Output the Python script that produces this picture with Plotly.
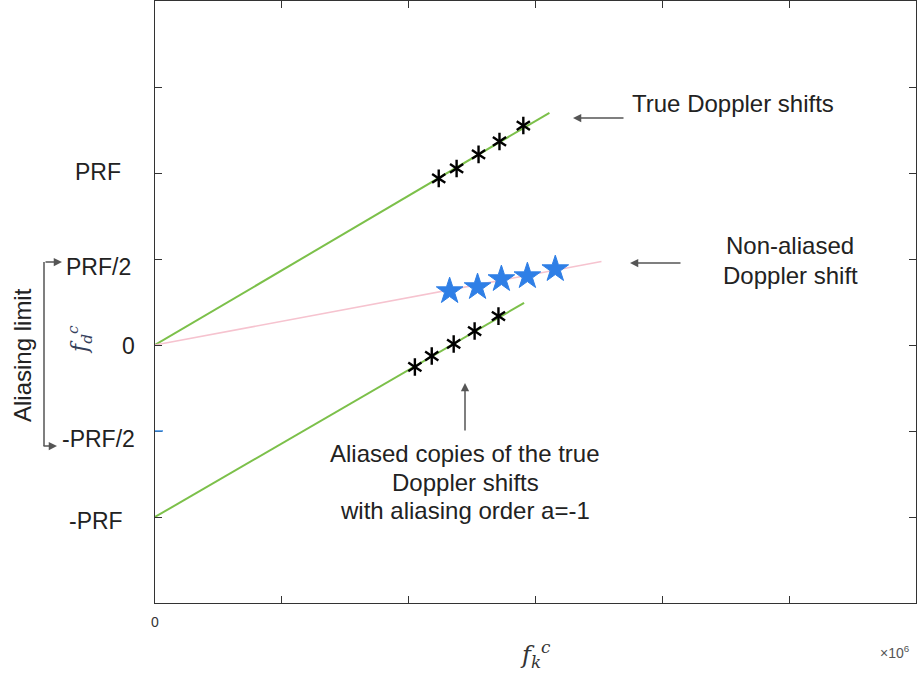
import plotly.graph_objects as go

# ---- data (x in units of 1e6, y in units of PRF/2) ----
x_ticks = [0, 1, 2, 3, 4, 5, 6]
x_ticktext = ["0", "", "", "", "", "", ""]
y_ticks = [-2, -1, 0, 1, 2, 3]
y_ticktext = ["-PRF", "-PRF/2", "0", "PRF/2", "PRF", ""]

true_line_x = [0.0, 3.11]
true_line_y = [0.0, 2.70]
alias_line_x = [0.0, 2.91]
alias_line_y = [-2.0, 0.49]
nonalias_line_x = [0.0, 3.52]
nonalias_line_y = [0.0, 0.97]

true_x = [2.237, 2.378, 2.551, 2.716, 2.904]
true_y = [1.937, 2.053, 2.216, 2.367, 2.552]
alias_x = [2.049, 2.182, 2.355, 2.520, 2.708]
alias_y = [-0.255, -0.128, 0.012, 0.162, 0.336]
nonalias_x = [2.323, 2.543, 2.731, 2.936, 3.156]
nonalias_y = [0.626, 0.673, 0.766, 0.800, 0.882]

# ---- layout geometry (pixels) ----
W, H = 918, 678
L, R, T, B = 155, 2, 1, 75
PW, PH = W - L - R, H - T - B


def px(p):
    return (p - L) / PW


def py(p):
    return (H - B - p) / PH


FONT = "Liberation Sans, Arial, Helvetica, sans-serif"
TXT = "#222222"
GREEN = "#7cc04a"
PINK = "#f6c3cf"
BLUE = "#2f7fe6"
FS = 24

fig = go.Figure()

for lx, ly, col, w in [
    (true_line_x, true_line_y, GREEN, 2),
    (alias_line_x, alias_line_y, GREEN, 2),
    (nonalias_line_x, nonalias_line_y, PINK, 1.6),
]:
    fig.add_trace(go.Scatter(x=lx, y=ly, mode="lines",
                             line=dict(color=col, width=w),
                             showlegend=False, hoverinfo="skip"))

# six-armed asterisks built from two overlaid Y symbols
for mx, my in [(true_x, true_y), (alias_x, alias_y)]:
    for sym in ["y-up-open", "y-down-open"]:
        fig.add_trace(go.Scatter(x=mx, y=my, mode="markers",
                                 marker=dict(symbol=sym, size=11, color="black",
                                             line=dict(color="black", width=2.4)),
                                 showlegend=False, hoverinfo="skip"))

fig.add_trace(go.Scatter(x=nonalias_x, y=nonalias_y, mode="markers",
                         marker=dict(symbol="star", size=20, color=BLUE,
                                     line=dict(color=BLUE, width=1)),
                         showlegend=False, hoverinfo="skip"))

annotations = []


def text_at(x, y, text, size=FS, xanchor="center", angle=0, family=FONT, color=TXT):
    annotations.append(dict(
        x=px(x), xref="paper", xanchor=xanchor, y=py(y), yref="paper",
        yanchor="middle", text=text, textangle=angle, showarrow=False,
        font=dict(family=family, size=size, color=color)))


# y tick labels
label_right = {"-PRF": 125, "-PRF/2": 137, "0": 137, "PRF/2": 133, "PRF": 123, "": 0}
label_dy = {"-PRF": 4, "-PRF/2": 8, "0": 1, "PRF/2": 8, "PRF": -1, "": 0}
for v, t in zip(y_ticks, y_ticktext):
    if not t:
        continue
    annotations.append(dict(
        x=px(label_right[t]), xref="paper", xanchor="right",
        y=v, yref="y", yanchor="middle", yshift=-label_dy[t],
        text=t, showarrow=False, font=dict(family=FONT, size=23, color=TXT)))

# axis titles
text_at(80, 340, "<i>f</i><sub><i>d</i></sub><sup><i>c</i></sup>", size=22, angle=-90,
        family="DejaVu Serif, serif", color="#34405a")
text_at(535, 655, "<i>f</i><sub><i>k</i></sub><sup><i>c</i></sup>", size=24,
        family="DejaVu Serif, serif", color="#333333")
text_at(895, 652, "×10<sup>6</sup>", size=14, color="#555555")

# callouts
text_at(630, 103, "True Doppler shifts", xanchor="left")
text_at(790, 245, "Non-aliased")
text_at(790, 275, "Doppler shift")
text_at(465, 453, "Aliased copies of the true")
text_at(465, 482, "Doppler shifts")
text_at(465, 510, "with aliasing order a=-1")
text_at(22, 355, "Aliasing limit", angle=-90)

# arrows (head at x/y, tail offset in pixels)
for hx, hy, tx, ty in [(573, 118, 625, 118),
                       (630, 263, 682, 263),
                       (465, 383, 465, 432),
                       (62, 262, 44, 262),
                       (57, 446, 42, 446)]:
    annotations.append(dict(
        x=px(hx), xref="paper", y=py(hy), yref="paper", text="",
        showarrow=True, arrowhead=2, arrowsize=1.1, arrowwidth=1.5,
        arrowcolor="#555555", ax=tx - hx, ay=ty - hy))

shapes = [
    dict(type="line", xref="paper", yref="paper",
         x0=px(44), x1=px(44), y0=py(262), y1=py(446),
         line=dict(color="#555555", width=1.5)),
    dict(type="line", xref="paper", yref="y",
         x0=px(155), x1=px(163), y0=-1, y1=-1,
         line=dict(color="#3a8ee6", width=1.5)),
]

axis_common = dict(showline=True, linecolor="#333333", linewidth=1.2,
                   mirror="ticks", ticks="inside", ticklen=7,
                   tickcolor="#333333", tickwidth=1, showgrid=False,
                   zeroline=False, fixedrange=True)

fig.update_layout(
    width=W, height=H,
    margin=dict(l=L, r=R, t=T, b=B),
    paper_bgcolor="white", plot_bgcolor="white",
    xaxis=dict(range=[0, 6], tickvals=x_ticks, ticktext=x_ticktext,
               tickfont=dict(family=FONT, size=14, color="#333333"),
               ticklabelstandoff=6, **axis_common),
    yaxis=dict(range=[-3, 4], tickvals=y_ticks, showticklabels=False,
               **axis_common),
    annotations=annotations, shapes=shapes,
    showlegend=False,
)

fig.write_html("out.html")
